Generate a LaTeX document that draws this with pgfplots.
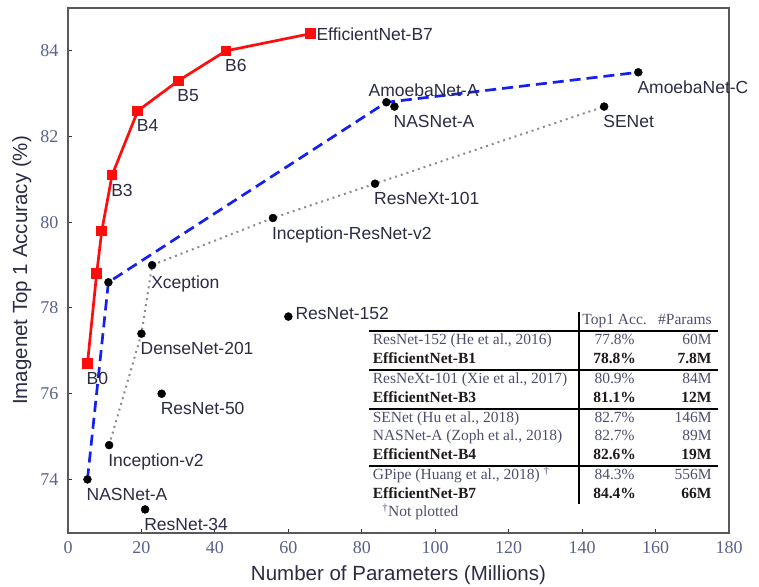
\documentclass[border=0pt]{standalone}
\usepackage{pgfplots}
\pgfplotsset{compat=1.18}
\usepackage{fontspec}
\usepackage{array}
\setmainfont{Liberation Serif}
\newfontfamily\labelfont{Liberation Sans}
\definecolor{effred}{rgb}{1,0.05,0.05}
\definecolor{nasblue}{rgb}{0.08,0.12,0.95}
\definecolor{lbltext}{rgb}{0.17,0.17,0.27}
\definecolor{ticktext}{rgb}{0.35,0.38,0.55}
\definecolor{tabgray}{rgb}{0.30,0.31,0.43}
\definecolor{tabdark}{rgb}{0.12,0.1,0.1}
\newcommand\g{\color{tabgray}}
\newcommand\bb{\color{tabdark}\bfseries}
\tikzset{
  lblfont/.style={inner sep=0pt, font=\labelfont\fontsize{17.5bp}{20bp}\selectfont, text=lbltext},
  lb/.style={lblfont, anchor=north west, xshift=-1bp, yshift=-8.5bp}
}
\begin{document}
\begin{tikzpicture}
\begin{axis}[
  scale only axis, width=661bp, height=525bp,
  xmin=0, xmax=180, ymin=72.75, ymax=85,
  xtick={0,20,...,180}, ytick={74,76,...,84},
  tick align=inside, tick pos=left,
  major tick length=4bp,
  every tick/.style={black!80, line width=1bp},
  axis line style={black!65, line width=1.6bp},
  /pgf/number format/assume math mode=true,
  tick label style={font=\fontsize{18bp}{20bp}\selectfont, text=ticktext},
  xticklabel style={yshift=-5bp},
  yticklabel style={xshift=-6bp},
  xlabel={Number of Parameters (Millions)},
  ylabel={Imagenet Top 1 Accuracy (\%)},
  label style={font=\labelfont\fontsize{20.5bp}{24bp}\selectfont, text=lbltext},
  xlabel style={at={(axis description cs:0.5,-0.091)}, anchor=base},
  ylabel style={at={(axis description cs:-0.062,0.5)}, anchor=base},
  clip=false,
]
% EfficientNet
\addplot[effred, line width=2.7bp, mark=square*, mark size=4bp, mark options={solid, fill=effred}]
  coordinates {(5.3,76.7)(7.8,78.8)(9.2,79.8)(12,81.1)(19,82.6)(30,83.3)(43,84.0)(66,84.4)};
% NAS frontier
\addplot[nasblue, line width=2.7bp, dash pattern=on 11bp off 6bp]
  coordinates {(5.3,74.0)(11,78.6)(86.7,82.8)(155.3,83.5)};
% handcrafted frontier
\addplot[black!45, line width=2bp, dash pattern=on 2bp off 4bp]
  coordinates {(11.2,74.8)(20,77.4)(22.9,79.0)(55.8,80.1)(83.6,80.9)(146,82.7)};
% other models
\addplot[only marks, mark=*, mark size=4bp, black]
  coordinates {(5.3,74.0)(11,78.6)(86.7,82.8)(88.9,82.7)(155.3,83.5)
               (11.2,74.8)(20,77.4)(22.9,79.0)(55.8,80.1)(83.6,80.9)(146,82.7)
               (60,77.8)(25.5,76.0)(21,73.3)};

\node[lb] at (axis cs:5.3,76.7) {B0};
\node[lb] at (axis cs:12,81.1) {B3};
\node[lb] at (axis cs:19,82.6) {B4};
\node[lb] at (axis cs:30,83.3) {B5};
\node[lb] at (axis cs:43,84.0) {B6};
\node[lblfont, anchor=west, xshift=6bp, yshift=-1bp] at (axis cs:66,84.4) {EfficientNet-B7};
\node[lblfont, anchor=base west, xshift=-18bp, yshift=5.5bp] at (axis cs:86.7,82.8) {AmoebaNet-A};
\node[lb] at (axis cs:88.9,82.7) {NASNet-A};
\node[lb] at (axis cs:155.3,83.5) {AmoebaNet-C};
\node[lb] at (axis cs:146,82.7) {SENet};
\node[lb] at (axis cs:83.6,80.9) {ResNeXt-101};
\node[lb] at (axis cs:55.8,80.1) {Inception-ResNet-v2};
\node[lb, yshift=-2bp] at (axis cs:22.9,79.0) {Xception};
\node[lb] at (axis cs:20,77.4) {DenseNet-201};
\node[lb] at (axis cs:25.5,76.0) {ResNet-50};
\node[lb] at (axis cs:11.2,74.8) {Inception-v2};
\node[lb] at (axis cs:5.3,74.0) {NASNet-A};
\node[lb] at (axis cs:21,73.3) {ResNet-34};
\node[lblfont, anchor=west, xshift=7bp, yshift=3bp] at (axis cs:60,77.8) {ResNet-152};

\node[anchor=north west, inner sep=0pt, font=\fontsize{15.5bp}{18.5bp}\selectfont] at (axis cs:82,77.92) {%
\setlength{\arrayrulewidth}{1.8bp}%
\setlength{\tabcolsep}{0pt}%
\begin{tabular}{@{\hspace{3.5bp}}w{l}{203bp}@{\hspace{2bp}}|@{\hspace{2bp}}w{c}{66bp}w{r}{64bp}@{\hspace{6bp}}}
 & \g Top1 Acc. & \g \#Params\\ \hline
\g ResNet-152 (He et al., 2016) & \g 77.8\% & \g 60M\\
\bb EfficientNet-B1 & \bb 78.8\% & \bb 7.8M\\ \hline
\g ResNeXt-101 (Xie et al., 2017) & \g 80.9\% & \g 84M\\
\bb EfficientNet-B3 & \bb 81.1\% & \bb 12M\\ \hline
\g SENet (Hu et al., 2018) & \g 82.7\% & \g 146M\\
\g NASNet-A (Zoph et al., 2018) & \g 82.7\% & \g 89M\\
\bb EfficientNet-B4 & \bb 82.6\% & \bb 19M\\ \hline
\g GPipe (Huang et al., 2018) \textsuperscript{\dag} & \g 84.3\% & \g 556M\\
\bb EfficientNet-B7 & \bb 84.4\% & \bb 66M\\
\multicolumn{3}{@{\hspace{13bp}}l}{\g\textsuperscript{\dag}Not plotted}
\end{tabular}};
\end{axis}
\pgfresetboundingbox
\useasboundingbox ([shift={(-68bp,-54bp)}]current axis.south west) rectangle ([shift={(30bp,8bp)}]current axis.north east);
\end{tikzpicture}
\end{document}
